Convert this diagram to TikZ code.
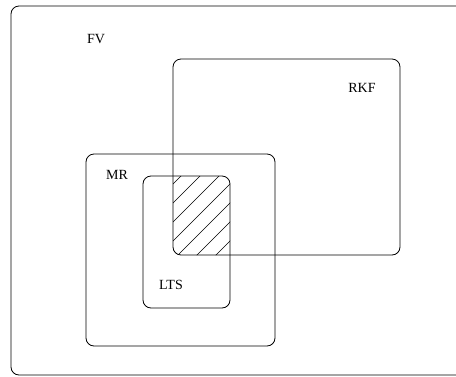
\documentclass[tikz,border=0pt]{standalone}
\usepackage{fontspec}
\setmainfont{Liberation Serif}
\usetikzlibrary{positioning}

\tikzset{
  setbox/.style={draw, rounded corners=8pt, line width=0.8pt},
  setname/.style={font=\fontsize{14}{16}\selectfont, inner sep=0pt}
}

\begin{document}
\begin{tikzpicture}[x=1pt, y=-1pt]
  \useasboundingbox (0,0) rectangle (456,376);
  % the sets
  \draw[setbox] (11,6) rectangle (470,375);
  \draw[setbox] (173,59) rectangle (400,255);
  \draw[setbox] (86,154) rectangle (275,346);
  \draw[setbox] (143,176) rectangle (230,308);
  % hatched overlap of RKF and LTS
  \begin{scope}
    \clip[rounded corners=8pt] (173,59) rectangle (400,255);
    \clip[rounded corners=8pt] (143,176) rectangle (230,308);
    \foreach \c in {357,376,...,509}
      \draw[line width=0.6pt] (\c-300,300) -- (\c-100,100);
  \end{scope}
  % labels
  \node[setname] (FV) at (96,39) {FV};
  \node[setname] (RKF) at (362,88) {RKF};
  \node[setname] (MR) at (117,175) {MR};
  \node[setname] (LTS) at (171,285) {LTS};
\end{tikzpicture}
\end{document}
